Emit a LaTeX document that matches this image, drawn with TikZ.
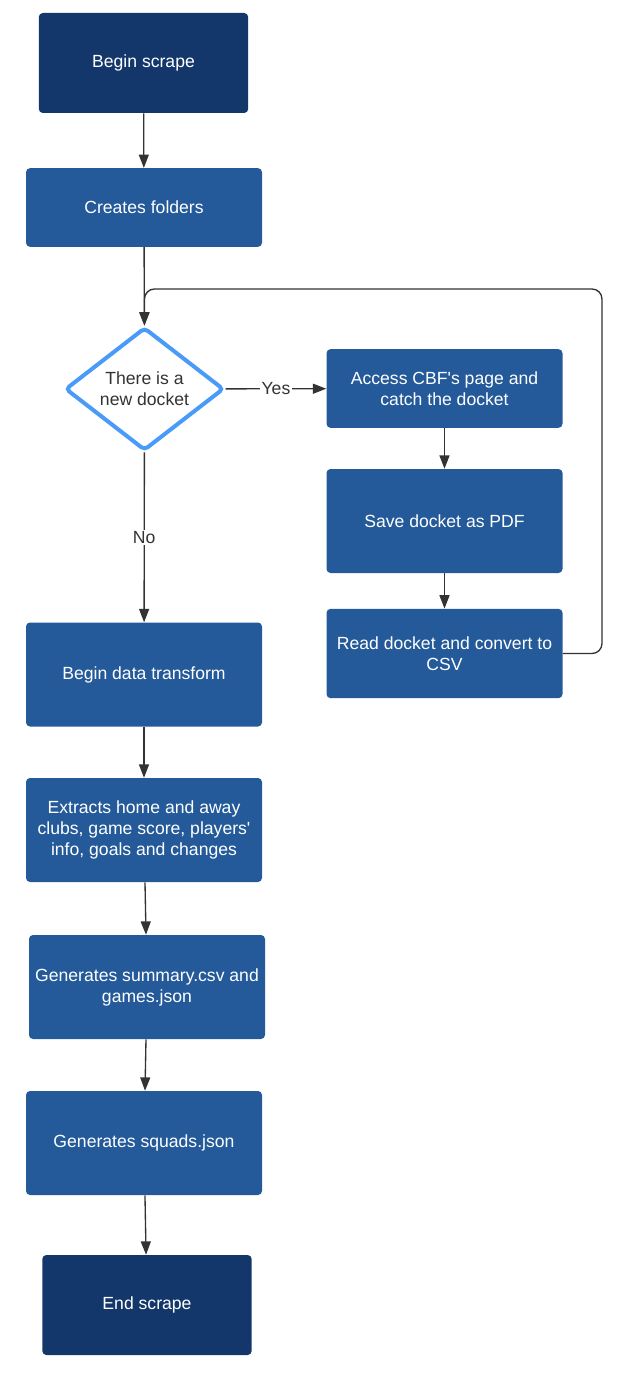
\documentclass[tikz,border=0pt]{standalone}
\usepackage{fontspec}
\setmainfont{Liberation Sans}
\usetikzlibrary{arrows.meta,shapes.geometric}

\definecolor{navydark}{HTML}{13376A}
\definecolor{boxblue}{HTML}{245A99}
\definecolor{edgeblue}{HTML}{4A9AF8}
\definecolor{linegray}{HTML}{333333}

\tikzset{
    terminal/.style = {
        draw = none, fill = navydark, text = white, align = center,
        rounded corners = 3pt, inner sep = 0pt,
        minimum width = 157pt, minimum height = 75pt
    },
    process/.style = {
        draw = none, fill = boxblue, text = white, align = center,
        rounded corners = 3pt, inner sep = 0pt,
        minimum width = 177pt, minimum height = 78pt
    },
    decision/.style = {
        diamond, draw = edgeblue, line width = 3pt, fill = white,
        text = linegray, align = center, rounded corners = 3pt,
        inner sep = 0pt, minimum width = 119pt, minimum height = 88.5pt
    },
    conn/.style = {
        draw = linegray, line width = 1pt,
        -{Triangle[length = 10pt, width = 7.5pt]}
    },
    connlabel/.style = {fill = white, text = linegray, inner sep = 1pt}
}

\begin{document}
\begin{tikzpicture}[%
        x = 0.75pt,
        y = -0.75pt,
        font = \fontsize{13.2}{15.8}\selectfont
    ]

        % Fix the page to the size of the reference.
        \useasboundingbox (0, 0) rectangle (629, 1377);

        % Scrape part of the flow.
        \node[terminal] (begin) at (143.5, 63) {Begin scrape};
        \node[process, minimum height = 59pt] (folders) at (144, 207.5) {Creates folders};
        \node[decision] (newdocket) at (144.5, 389) {There is a\\new docket};

        % Right column, run when a new docket is found.
        \node[process, minimum height = 59pt] (access) at (444.5, 388.5) {Access CBF\textquotesingle s page and\\catch the docket};
        \node[process] (savepdf) at (444.5, 521) {Save docket as PDF};
        \node[process, minimum height = 67pt] (readcsv) at (444.5, 653.5) {Read docket and convert to\\CSV};

        % Transform part of the flow.
        \node[process] (transform) at (144, 674.5) {Begin data transform};
        \node[process] (extracts) at (144, 830) {Extracts home and away\\clubs, game score, players\textquotesingle\\info, goals and changes};
        \node[process] (summary) at (147, 987) {Generates summary.csv and\\games.json};
        \node[process] (squads) at (144, 1143) {Generates squads.json};
        \node[terminal] (end) at (147, 1305) {End scrape};

        % Corner of the loop back to the decision.
        \coordinate (loopcorner) at (602, 289);

        % Connectors.
        \draw[conn] (begin) -- (folders);
        \draw[conn] (folders) -- (newdocket);
        \draw[conn] (newdocket) -- node[connlabel] {Yes} (access);
        \draw[conn] (access) -- (savepdf);
        \draw[conn] (savepdf) -- (readcsv);
        \draw[conn, rounded corners = 7.5pt] (readcsv.east) -| (loopcorner) -| (newdocket.north);
        \draw[conn] (newdocket) -- node[connlabel] {No} (transform);
        \draw[conn] (transform) -- (extracts);
        \draw[conn] (extracts) -- (summary);
        \draw[conn] (summary) -- (squads);
        \draw[conn] (squads) -- (end);
    \end{tikzpicture}
\end{document}
